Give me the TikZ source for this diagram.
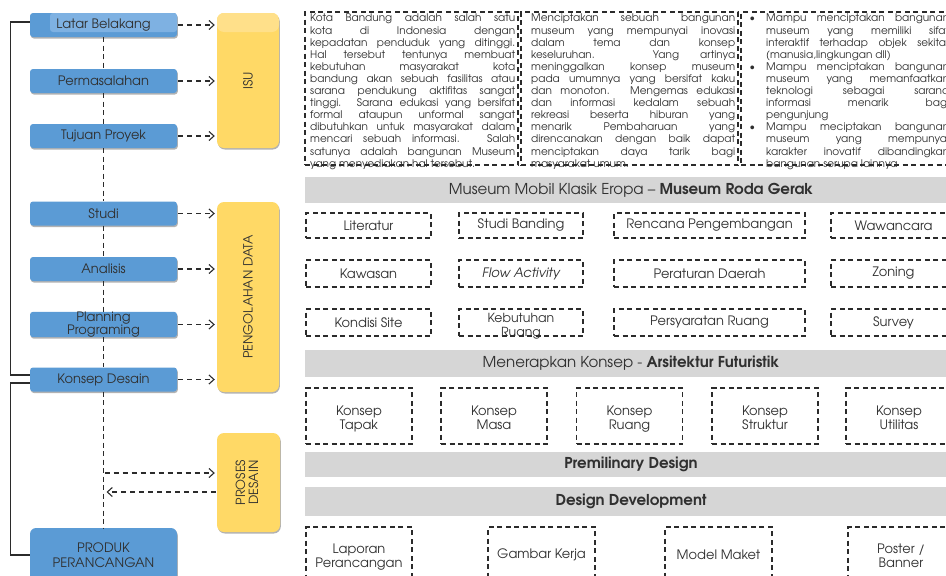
\documentclass[tikz,border=0pt]{standalone}
\usepackage{fontspec}
\setmainfont{texgyreadventor}[Extension=.otf, UprightFont=*-regular, BoldFont=*-bold, ItalicFont=*-italic, BoldItalicFont=*-bolditalic]
\usetikzlibrary{arrows.meta,shadows}
\definecolor{boxblue}{HTML}{5B9BD5}
\definecolor{boxbluelt}{HTML}{7EB1E2}
\definecolor{boxyellow}{HTML}{FFD966}
\definecolor{boxyellowlt}{HTML}{FFE08A}
\definecolor{bargray}{HTML}{D6D6D6}
\definecolor{dline}{HTML}{2B2B2B}
\definecolor{txt}{HTML}{303030}
\newcommand{\jl}[1]{\makebox[\linewidth][s]{#1}\par}
\newcommand{\bl}[1]{\makebox[0pt][r]{\textbullet\hspace{11pt}}\makebox[\linewidth][s]{#1}\par}
\newcommand{\twol}[3]{\raisebox{#3}[0pt][0pt]{\begin{tabular}{@{}c@{}}#1\\#2\end{tabular}}}
\begin{document}
\begin{tikzpicture}[x=1pt,y=-1pt,
  bluebox/.style={rounded corners=3pt, fill=boxblue, inner sep=0pt, minimum width=147pt, minimum height=24pt,
    font=\fontsize{13}{13}\selectfont, text=txt, align=center,
    drop shadow={shadow xshift=0.8pt, shadow yshift=-1.5pt, opacity=0.3, fill=black}},
  yellowbox/.style={rounded corners=7pt, fill=boxyellow, inner sep=0pt, minimum width=62pt,
    font=\fontsize{12.6}{15}\selectfont, text=txt,
    drop shadow={shadow xshift=0.8pt, shadow yshift=-1.5pt, opacity=0.3, fill=black}},
  graybar/.style={fill=bargray, inner sep=0pt, minimum width=652pt, font=\fontsize{15}{16}\selectfont, text=txt},
  dbox/.style={draw=dline, line width=1.1pt, dash pattern=on 5pt off 3.5pt, inner sep=0pt,
    font=\fontsize{13}{14.5}\selectfont, align=center, text=txt},
  bodytext/.style={inner sep=0pt, anchor=north west, text=txt},
  darrow/.style={draw=dline, line width=1.1pt, dash pattern=on 5pt off 4pt, shorten <=1pt, shorten >=2pt,
    -{Straight Barb[length=5pt,width=9pt,line width=1.1pt]}},
  vdash/.style={draw=dline, line width=1.1pt, dash pattern=on 5pt off 3.5pt},
  bracket/.style={draw=dline, line width=1.2pt},
]
\useasboundingbox (0,0) rectangle (946,576);

% ---------- left column ----------
\node[bluebox, path picture={\fill[boxbluelt] ([xshift=20pt]path picture bounding box.north west) rectangle ([yshift=5pt]path picture bounding box.south east);}] (latar) at (103.5,25) {Latar Belakang};
\node[bluebox] (perm) at (103.5,81) {Permasalahan};
\node[bluebox] (tujuan) at (103.5,136) {Tujuan Proyek};
\node[bluebox] (studi) at (103.5,213.5) {Studi};
\node[bluebox] (analisis) at (103.5,269) {Analisis};
\node[bluebox] (plan) at (103.5,324.5) {Planning\\Programing};
\node[bluebox] (konsep) at (103.5,379.5) {Konsep Desain};
\node[bluebox, minimum height=54pt, rounded corners=6pt, font=\fontsize{13}{15}\selectfont] (produk) at (103.5,555) {PRODUK\\PERANCANGAN};

\node[yellowbox, minimum height=135pt, path picture={\fill[boxyellowlt] (path picture bounding box.north west) rectangle ([yshift=-19pt]path picture bounding box.north east);}] (isu) at (248,80.5) {\rotatebox{90}{ISU}};
\node[yellowbox, minimum height=190pt] (peng) at (248,297) {\rotatebox{90}{PENGOLAHAN DATA}};
\node[yellowbox, minimum width=63pt, minimum height=99pt] (proses) at (248.5,482.5)
  {\rotatebox{90}{\begin{tabular}{@{}c@{}}PROSES\\[-2pt]DESAIN\end{tabular}}};

\foreach \a/\b in {latar/perm, perm/tujuan, tujuan/studi, studi/analisis, analisis/plan, plan/konsep, konsep/produk}
  \draw[vdash] (\a) -- (\b);

\foreach \n/\t in {latar/isu, perm/isu, tujuan/isu, studi/peng, analisis/peng, plan/peng, konsep/peng}
  \draw[darrow] (\n.east) -- (\n.east -| \t.west);

\coordinate (j1) at (103.5,473);
\coordinate (j2) at (104.5,492);
\draw[darrow] (j1) -- (j1 -| proses.west);
\draw[darrow] (j2 -| proses.west) -- (j2);

\draw[bracket] ([yshift=3pt]latar.west) -- ++(-19,0) |- ([yshift=4.5pt]konsep.west);
\draw[bracket] ([yshift=-3.5pt]konsep.west) -- ++(-19,0) |- (produk.west);

% ---------- top text boxes ----------
\node[dbox, minimum width=213pt, minimum height=153pt] (tb1) at (411.5,88.5) {};
\node[dbox, minimum width=217pt, minimum height=153pt] (tb2) at (629.5,88.5) {};
\node[dbox, minimum width=216pt, minimum height=153pt] (tb3) at (849,88.5) {};

\node[bodytext] (tx1) at (310,14) {\begin{minipage}{205pt}\fontsize{10.5}{12.1}\selectfont\parindent=0pt
\jl{Kota Bandung adalah salah satu}
\jl{kota di Indonesia dengan}
\jl{kepadatan penduduk yang ditinggi.}
\jl{Hal tersebut tentunya membuat}
\jl{kebutuhan masyarakat kota}
\jl{bandung akan sebuah fasilitas atau}
\jl{sarana pendukung aktifitas sangat}
\jl{tinggi. Sarana edukasi yang bersifat}
\jl{formal ataupun unformal sangat}
\jl{dibutuhkan untuk masyarakat dalam}
\jl{mencari sebuah informasi. Salah}
\jl{satunya adalah bangunan Museum}
yang menyediakan hal tersebut.
\end{minipage}};

\node[bodytext] (tx2) at (531,14) {\begin{minipage}{204pt}\fontsize{10.5}{12.1}\selectfont\parindent=0pt
\jl{Menciptakan sebuah bangunan}
\jl{museum yang mempunyai inovasi}
\jl{dalam tema dan konsep}
\jl{keseluruhan. Yang artinya}
\jl{meninggalkan konsep museum}
\jl{pada umumnya yang bersifat kaku}
\jl{dan monoton. Mengemas edukasi}
\jl{dan informasi kedalam sebuah}
\jl{rekreasi beserta hiburan yang}
\jl{menarik Pembaharuan yang}
\jl{direncanakan dengan baik dapat}
\jl{menciptakan daya tarik bagi}
masyarakat umum.
\end{minipage}};

\node[bodytext] (tx3) at (766,14) {\begin{minipage}{183pt}\fontsize{10.5}{12.1}\selectfont\parindent=0pt
\bl{Mampu menciptakan bangunan}
\jl{museum yang memiliki sifat}
\jl{interaktif terhadap objek sekitar}
(manusia,lingkungan dll)\par
\bl{Mampu menciptakan bangunan}
\jl{museum yang memanfaatkan}
\jl{teknologi sebagai sarana}
\jl{informasi menarik bagi}
pengunjung\par
\bl{Mampu meciptakan bangunan}
\jl{museum yang mempunyai}
\jl{karakter inovatif dibandingkan}
bangunan serupa lainnya
\end{minipage}};

% ---------- gray bars ----------
\node[graybar, minimum height=26pt] (bar1) at (631,190) {Museum Mobil Klasik Eropa -- \textbf{Museum Roda Gerak}};
\node[graybar, minimum height=27pt] (bar2) at (631,363.5) {Menerapkan Konsep - \textbf{Arsitektur Futuristik}};
\node[graybar, minimum height=25pt] (bar3) at (631,464.5) {\textbf{Premilinary Design}};
\node[graybar, minimum height=29pt] (bar4) at (631,501.5) {\textbf{Design Development}};

% ---------- dashed boxes ----------
\node[dbox, minimum width=125pt, minimum height=25pt] (lit) at (368.5,225.5) {Literatur};
\node[dbox, minimum width=124pt, minimum height=25pt] (sb) at (521,225.5) {Studi Banding};
\node[dbox, minimum width=191pt, minimum height=25pt] (rp) at (709.5,225.5) {Rencana Pengembangan};
\node[dbox, minimum width=125pt, minimum height=25pt] (ww) at (893.5,225.5) {Wawancara};

\node[dbox, minimum width=125pt, minimum height=27pt] (kaw) at (368.5,273.5) {Kawasan};
\node[dbox, minimum width=124pt, minimum height=27pt] (fa) at (521,273.5) {\itshape Flow Activity};
\node[dbox, minimum width=191pt, minimum height=27pt] (pd) at (709.5,273.5) {Peraturan Daerah};
\node[dbox, minimum width=125pt, minimum height=27pt] (zon) at (893.5,273.5) {Zoning};

\node[dbox, minimum width=125pt, minimum height=27pt] (ks) at (368.5,322.5) {Kondisi Site};
\node[dbox, minimum width=124pt, minimum height=27pt, font=\fontsize{12.5}{14.5}\selectfont] (kr) at (521,322.5) {\twol{Kebutuhan}{Ruang}{-7pt}};
\node[dbox, minimum width=191pt, minimum height=27pt] (pr) at (709.5,322.5) {Persyaratan Ruang};
\node[dbox, minimum width=125pt, minimum height=27pt] (sur) at (893.5,322.5) {Survey};

\foreach \n/\x/\t in {kt/359/Tapak, km/494/Masa, kru/629.5/Ruang, kst/765/Struktur, ku/899/Utilitas}
  \node[dbox, minimum width=106pt, minimum height=56pt] (\n) at (\x,416) {\twol{Konsep}{\t}{-6.5pt}};

\node[dbox, minimum width=106pt, minimum height=55pt] (lap) at (359,554.5) {\twol{Laporan}{Perancangan}{-6.2pt}};
\node[dbox, minimum width=107pt, minimum height=55pt] (gk) at (541.5,554.5) {Gambar Kerja};
\node[dbox, minimum width=107pt, minimum height=55pt] (mm) at (718.5,554.5) {Model Maket};
\node[dbox, minimum width=106pt, minimum height=55pt] (pb) at (901,554.5) {\twol{Poster /}{Banner}{-6.2pt}};
\end{tikzpicture}
\end{document}
